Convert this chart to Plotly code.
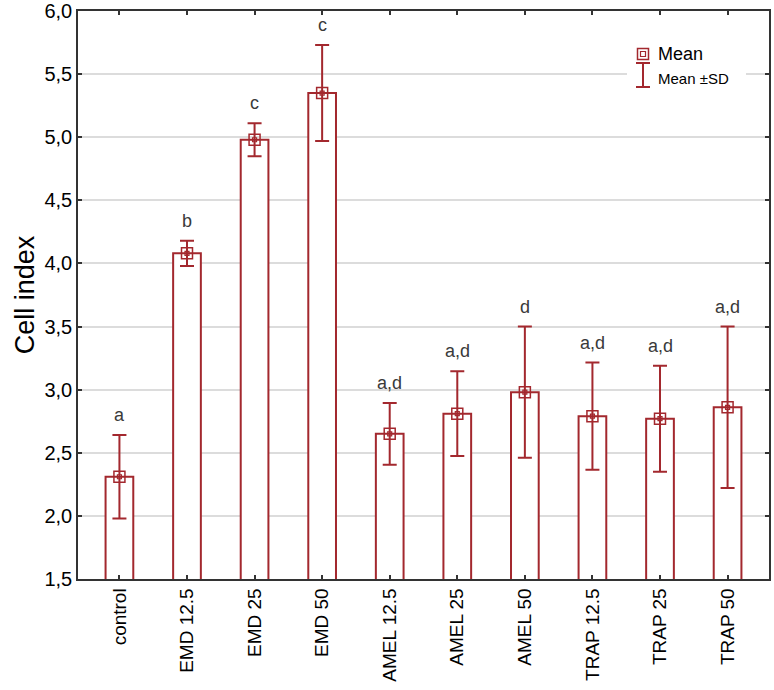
import plotly.graph_objects as go

categories = ["control", "EMD 12.5", "EMD 25", "EMD 50", "AMEL 12.5", "AMEL 25",
              "AMEL 50", "TRAP 12.5", "TRAP 25", "TRAP 50"]
means = [2.31, 4.08, 4.98, 5.35, 2.65, 2.81, 2.98, 2.79, 2.77, 2.86]
sds = [0.33, 0.10, 0.13, 0.38, 0.245, 0.335, 0.52, 0.425, 0.42, 0.64]
letters = ["a", "b", "c", "c", "a,d", "a,d", "d", "a,d", "a,d", "a,d"]
y_ticks = [1.5, 2.0, 2.5, 3.0, 3.5, 4.0, 4.5, 5.0, 5.5, 6.0]

RED = "#a3282e"
FONT = "Liberation Sans, Arial, sans-serif"

L, R, T, B = 78, 5, 11, 111
PW, PH = 774 - L - R, 690 - T - B


def px(xp):
    return (xp - L) / PW


def py(yp):
    return (690 - B - yp) / PH


fig = go.Figure()
fig.add_trace(go.Bar(
    x=categories, y=means, width=0.41,
    marker=dict(color="white", line=dict(color=RED, width=2)),
    showlegend=False, hoverinfo="skip",
))
fig.add_trace(go.Scatter(
    x=categories, y=means, mode="markers",
    marker=dict(symbol="square-open", size=11, color=RED, line=dict(width=1.5, color=RED)),
    error_y=dict(type="data", array=sds, visible=True, color=RED, thickness=2, width=7),
    showlegend=False,
))
fig.add_trace(go.Scatter(
    x=categories, y=means, mode="markers",
    marker=dict(symbol="square-open", size=4, color=RED, line=dict(width=1.2, color=RED)),
    showlegend=False,
))

for c, m, s, t in zip(categories, means, sds, letters):
    fig.add_annotation(x=c, y=m + s, text=t, showarrow=False, yanchor="middle",
                       yshift=20, font=dict(size=18, color="#3a3a3a", family=FONT))

# legend box (drawn manually)
ex, ey = px(643), py(54)
ytop, ybot = py(63), py(87)
shapes = [
    dict(type="rect", xref="paper", yref="paper", x0=px(627), x1=px(746), y0=py(92), y1=py(38),
         fillcolor="white", line=dict(width=0), layer="above"),
    dict(type="rect", xref="paper", yref="paper", xsizemode="pixel", ysizemode="pixel",
         xanchor=ex, yanchor=ey, x0=-5.5, x1=5.5, y0=-5.5, y1=5.5,
         line=dict(color=RED, width=1.5), layer="above"),
    dict(type="rect", xref="paper", yref="paper", xsizemode="pixel", ysizemode="pixel",
         xanchor=ex, yanchor=ey, x0=-2.5, x1=2.5, y0=-2.5, y1=2.5,
         line=dict(color=RED, width=1.2), layer="above"),
    dict(type="line", xref="paper", yref="paper", x0=ex, x1=ex, y0=ybot, y1=ytop,
         line=dict(color=RED, width=2), layer="above"),
    dict(type="line", xref="paper", yref="paper", xsizemode="pixel", xanchor=ex,
         x0=-7, x1=7, y0=ytop, y1=ytop, line=dict(color=RED, width=2), layer="above"),
    dict(type="line", xref="paper", yref="paper", xsizemode="pixel", xanchor=ex,
         x0=-7, x1=7, y0=ybot, y1=ybot, line=dict(color=RED, width=2), layer="above"),
]
fig.add_annotation(xref="paper", yref="paper", x=px(656), y=py(54),
                   text="Mean", showarrow=False, xanchor="left", yanchor="middle",
                   font=dict(size=18, color="black", family=FONT))
fig.add_annotation(xref="paper", yref="paper", x=px(656), y=py(79),
                   text="Mean ±SD", showarrow=False, xanchor="left", yanchor="middle",
                   font=dict(size=15, color="black", family=FONT))

fig.update_layout(
    width=774, height=690,
    margin=dict(l=L, r=R, t=T, b=B),
    paper_bgcolor="white", plot_bgcolor="white",
    separators=", ",
    shapes=shapes,
    font=dict(family=FONT, color="black"),
)
fig.update_xaxes(
    automargin=False,
    showline=True, linecolor="#333333", linewidth=1.5, mirror="ticks",
    ticks="inside", ticklen=4, tickcolor="#333333", tickwidth=1.5,
    tickangle=-90, tickfont=dict(size=19, family=FONT, color="black"),
    showgrid=False,
)
fig.update_yaxes(
    automargin=False,
    range=[1.5, 6.0], tickvals=y_ticks, tickformat=".1f",
    showline=True, linecolor="#333333", linewidth=1.5, mirror="ticks",
    ticks="inside", ticklen=4, tickcolor="#333333", tickwidth=1.5,
    tickfont=dict(size=20, family=FONT, color="black"),
    showgrid=True, gridcolor="#dcdcdc", gridwidth=1.5, zeroline=False,
    title=dict(text="Cell index", font=dict(size=27, family=FONT, color="black"), standoff=2),
)

fig.write_html("out.html", config={"displayModeBar": False},
               post_script="document.body.style.margin='0';")
